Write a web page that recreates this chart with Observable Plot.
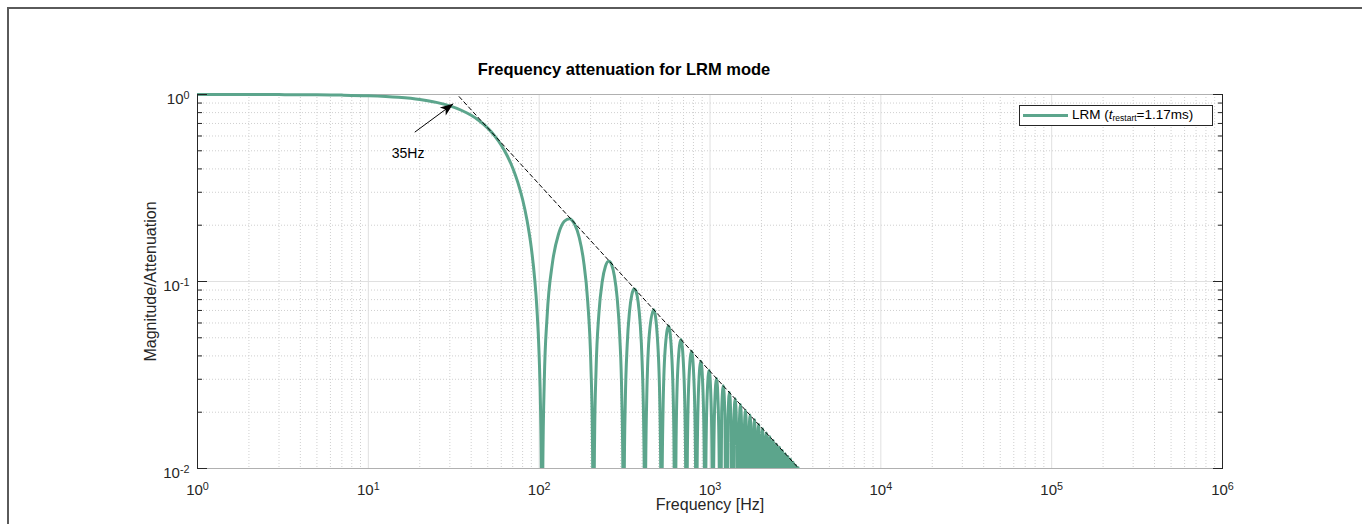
<!DOCTYPE html>
<html>
<head>
<meta charset="utf-8">
<script src="https://cdn.jsdelivr.net/npm/d3@7"></script>
<script src="https://cdn.jsdelivr.net/npm/@observablehq/plot@0.6"></script>
<style>
  body { margin: 0; background: #fff; overflow: hidden; }
  #wrap { position: relative; width: 1362px; height: 524px; font-family: "Liberation Sans", Arial, sans-serif; }
  #chart svg { position: absolute; left: 0; top: 0; }
  #border { position: absolute; left: 7px; top: 7px; width: 1400px; height: 600px; border-left: 2px solid #5a5a5a; border-top: 2px solid #5a5a5a; pointer-events: none; }
  #legend { position: absolute; left: 1019px; top: 105px; width: 192px; height: 19px; border: 1px solid #262626; background: #fff; z-index: 2; }
  #legend .sample { position: absolute; left: 3px; top: 8px; width: 45px; height: 3px; background: #5ca58c; }
  #legend .lab { position: absolute; left: 52px; top: 1px; font-size: 13.5px; color: #000; white-space: nowrap; line-height: 16px; }
  #legend sub { font-size: 8.5px; vertical-align: -2px; }
</style>
</head>
<body>
<div id="wrap">
  <div id="chart"></div>
  <div id="legend"><div class="sample"></div><div class="lab">LRM (<i>t</i><sub>restart</sub>=1.17ms)</div></div>
  <div id="border"></div>
</div>
<script>
// ---------- data ----------
const titleText = "Frequency attenuation for LRM mode";
const xLabel = "Frequency [Hz]";
const yLabel = "Magnitude/Attenuation";
const legendLabel = "LRM (t_restart=1.17ms)";

const xMajorTicks = [1, 10, 100, 1000, 10000, 100000, 1000000];
const xTickExponents = ["0", "1", "2", "3", "4", "5", "6"];
const yMajorTicks = [0.01, 0.1, 1];
const yTickExponents = ["-2", "-1", "0"];

// main lobe [frequency Hz, magnitude]
const mainLobe = [[1,1],[2,0.9994],[3,0.9985],[5,0.9962],[7,0.9926],[10,0.985],[15,0.9661],[20,0.9404],[25,0.9079],[30,0.8688],[35,0.8237],[40,0.7738],[45,0.7193],[50,0.6608],[55,0.5994],[60,0.5357],[65,0.4705],[70,0.4049],[75,0.3389],[80,0.2744],[85,0.2115],[90,0.1509],[94,0.1047],[97,0.0716],[100,0.0399],[102,0.0196],[103,0.0097]];

// notches (magnitude drops below the axis there)
const notchFreqs = [104,208,312,416,520,624,728,832,936,1040,1144,1248,1352,1456,1560,1664,1768,1872,1976,2080,2184,2288,2392,2496,2600,2704,2808,2912,3016,3120,3224,3328];
const notchMagnitude = 0.001;

// first side lobes
const lobes1to3 = [
  [105.04,0.0099],[107.12,0.0291],[111.28,0.0649],[119.6,0.1257],[130,0.1801],[140.4,0.2101],[150.8,0.2168],[156,0.2122],[161.2,0.2028],[171.6,0.1719],[182,0.1286],[192.4,0.0781],[200.72,0.0360],[204.88,0.0152],[206.96,0.0050],
  [209.04,0.0050],[211.12,0.0148],[215.28,0.0335],[223.6,0.0672],[234,0.1000],[244.4,0.1207],[254.8,0.1283],[260,0.1273],[265.2,0.1233],[275.6,0.1070],[286,0.0819],[296.4,0.0507],[304.72,0.0237],[308.88,0.0101],[310.96,0.0033],
  [313.04,0.0033],[315.12,0.0099],[319.28,0.0226],[327.6,0.0459],[338,0.0693],[348.4,0.0847],[358.8,0.0911],[364,0.0910],[369.2,0.0886],[379.6,0.0777],[390,0.0600],[400.4,0.0375],[408.72,0.0177],[412.88,0.0075]
];
const lobes4to10 = [
  [419.12,0.0074],[426.4,0.0240],[442,0.0530],[468,0.0707],[494,0.0474],[509.6,0.0201],[516.88,0.0060],
  [523.12,0.0060],[530.4,0.0193],[546,0.0429],[572,0.0579],[598,0.0391],[613.6,0.0167],[620.88,0.0050],
  [627.12,0.0050],[634.4,0.0161],[650,0.0360],[676,0.0490],[702,0.0334],[717.6,0.0143],[724.88,0.0043],
  [731.12,0.0043],[738.4,0.0139],[754,0.0310],[780,0.0424],[806,0.0290],[821.6,0.0125],[828.88,0.0038],
  [835.12,0.0037],[842.4,0.0121],[858,0.0273],[884,0.0375],[910,0.0257],[925.6,0.0111],[932.88,0.0033],
  [939.12,0.0033],[946.4,0.0108],[962,0.0243],[988,0.0335],[1014,0.0231],[1029.6,0.0099],[1036.88,0.0030],
  [1043.12,0.0030],[1050.4,0.0097],[1066,0.0220],[1092,0.0303],[1118,0.0209],[1133.6,0.0090]
];
const lobes11to24 = [
  [1170,0.0200],[1196,0.0277],[1222,0.0192],
  [1274,0.0184],[1300,0.0255],[1326,0.0177],
  [1378,0.0170],[1404,0.0236],[1430,0.0164],
  [1482,0.0158],[1508,0.0220],[1534,0.0153],
  [1586,0.0148],[1612,0.0205],[1638,0.0143],
  [1690,0.0139],[1716,0.0193],[1742,0.0134],
  [1794,0.0131],[1820,0.0182],[1846,0.0127],
  [1898,0.0123],[1924,0.0172],[1950,0.0120],
  [2002,0.0117],[2028,0.0163],[2054,0.0114],
  [2106,0.0111],[2132,0.0155],[2158,0.0109],
  [2210,0.0106],[2236,0.0148],[2262,0.0104],
  [2314,0.0101],[2340,0.0141],[2366,0.0099],
  [2418,0.0097],[2444,0.0135],[2470,0.0095],
  [2522,0.0093],[2548,0.0130],[2574,0.0091]
];
const lobePeaks25to31 = [[2652,0.0125],[2756,0.0120],[2860,0.0116],[2964,0.0112],[3068,0.0108],[3172,0.0104],[3276,0.0101]];

// dashed -20 dB/decade envelope
const envelopeFreq = [34, 3310];
const envelopeMag = [0.974, 0.01];

// annotation
const arrowFrom = {f: 18.7, m: 0.629};
const arrowTo = {f: 31.4, m: 0.892};
const annotationText = [{f: 17.1, m: 0.484, label: "35Hz"}];

// ---------- build ----------
const curveColor = "#5ca58c";
const curve = [...mainLobe, ...lobes1to3, ...lobes4to10, ...lobes11to24, ...lobePeaks25to31,
  ...notchFreqs.map(f => [f, notchMagnitude])]
  .sort((a, b) => a[0] - b[0])
  .map(([f, m]) => ({f, m}));
const envelope = envelopeFreq.map((f, i) => ({f, m: envelopeMag[i]}));
const arrowData = [{x1: arrowFrom.f, y1: arrowFrom.m, x2: arrowTo.f, y2: arrowTo.m}];

const xMinor = d3.scaleLog().domain([xMajorTicks[0], xMajorTicks[xMajorTicks.length - 1]]).ticks().filter(v => !xMajorTicks.includes(v));
const yMinor = d3.scaleLog().domain([yMajorTicks[0], yMajorTicks[yMajorTicks.length - 1]]).ticks().filter(v => !yMajorTicks.includes(v));

const font = '"Liberation Sans", Arial, sans-serif';
const ink = "#262626";

const svgEl = Plot.plot({
  width: 1362,
  height: 524,
  marginTop: 94,
  marginRight: 140,
  marginBottom: 56,
  marginLeft: 197,
  x: {type: "log", domain: [xMajorTicks[0], xMajorTicks[xMajorTicks.length - 1]], axis: null},
  y: {type: "log", domain: [yMajorTicks[0], yMajorTicks[yMajorTicks.length - 1]], axis: null},
  style: {fontFamily: font, fontSize: "14px", color: ink, background: "transparent", overflow: "visible"},
  marks: [
    Plot.ruleX(xMinor, {stroke: "#cfcfcf", strokeDasharray: "1,2"}),
    Plot.ruleY(yMinor, {stroke: "#cfcfcf", strokeDasharray: "1,2"}),
    Plot.ruleX(xMajorTicks, {stroke: "#e0e0e0"}),
    Plot.ruleY(yMajorTicks, {stroke: "#e0e0e0"}),
    Plot.frame({stroke: "#b0b0b0"}),
    Plot.line(curve, {x: "f", y: "m", stroke: curveColor, strokeWidth: 3, curve: "monotone-x", clip: true}),
    Plot.line(envelope, {x: "f", y: "m", stroke: "#000", strokeWidth: 1, strokeDasharray: "4,3"}),
    Plot.ruleX([xMajorTicks[0], xMajorTicks[xMajorTicks.length - 1]], {stroke: ink}),
    Plot.axisY(yMajorTicks, {anchor: "left", tickSize: 10, dx: 10, fill: "none", stroke: ink, label: null}),
    Plot.axisY(yMinor, {anchor: "left", tickSize: 5, dx: 5, fill: "none", stroke: ink, label: null}),
    Plot.axisY(yMajorTicks, {anchor: "right", tickSize: 10, dx: -10, fill: "none", stroke: ink, label: null}),
    Plot.axisY(yMinor, {anchor: "right", tickSize: 5, dx: -5, fill: "none", stroke: ink, label: null}),
    Plot.axisY(yMajorTicks, {anchor: "left", tickSize: 0, tickPadding: 8, dy: 5, label: null,
      tickFormat: d => yTickExponents[yMajorTicks.indexOf(d)], fontSize: 15, fill: ink}),
    Plot.axisX(xMajorTicks, {anchor: "bottom", tickSize: 0, tickPadding: 16, label: null,
      tickFormat: d => xTickExponents[xMajorTicks.indexOf(d)], fontSize: 15, fill: ink}),
    Plot.text([xLabel], {frameAnchor: "bottom", dy: 41, fontSize: 16, fill: ink, text: d => d}),
    Plot.text([yLabel], {frameAnchor: "left", dx: -47, rotate: -90, textAnchor: "middle", fontSize: 16, fill: ink, text: d => d}),
    Plot.text([titleText], {frameAnchor: "top", dy: -31, dx: -86, fontSize: 16.5, fontWeight: "bold", fill: "#000", text: d => d}),
    Plot.link(arrowData, {x1: "x1", y1: "y1", x2: "x2", y2: "y2", stroke: "#000", strokeWidth: 1}),
    Plot.text(annotationText, {x: "f", y: "m", text: "label", fontSize: 14, fill: "#000"})
  ]
});
document.getElementById("chart").appendChild(svgEl);

// ---------- post-processing ----------
const svg = d3.select(svgEl);
// filled arrow head on the annotation link
const defs = svg.insert("defs", ":first-child");
defs.append("marker")
  .attr("id", "ahead").attr("viewBox", "-14 -6 15 12")
  .attr("refX", 0).attr("refY", 0)
  .attr("markerWidth", 15).attr("markerHeight", 12)
  .attr("markerUnits", "userSpaceOnUse").attr("orient", "auto")
  .attr("overflow", "visible")
  .append("path").attr("d", "M0,0L-13,-5L-9.5,0L-13,5Z").attr("fill", "#000");
svg.selectAll('g[aria-label="link"] path').attr("marker-end", "url(#ahead)");

// let the flat top of the curve show its full width (clip only data below the axis)
svg.selectAll("clipPath rect").each(function () {
  const r = d3.select(this);
  const y = +r.attr("y"), h = +r.attr("height");
  r.attr("y", y - 4).attr("height", h + 4);
});

// superscript tick labels 10^n
function superscript(sel) {
  sel.each(function () {
    const t = d3.select(this);
    const e = t.text();
    t.text(null);
    t.append("tspan").text("10");
    t.append("tspan").attr("dy", "-0.5em").attr("font-size", "0.72em").text(e);
  });
}
superscript(svg.selectAll('g[aria-label="y-axis tick label"] text'));
superscript(svg.selectAll('g[aria-label="x-axis tick label"] text'));
</script>
</body>
</html>
